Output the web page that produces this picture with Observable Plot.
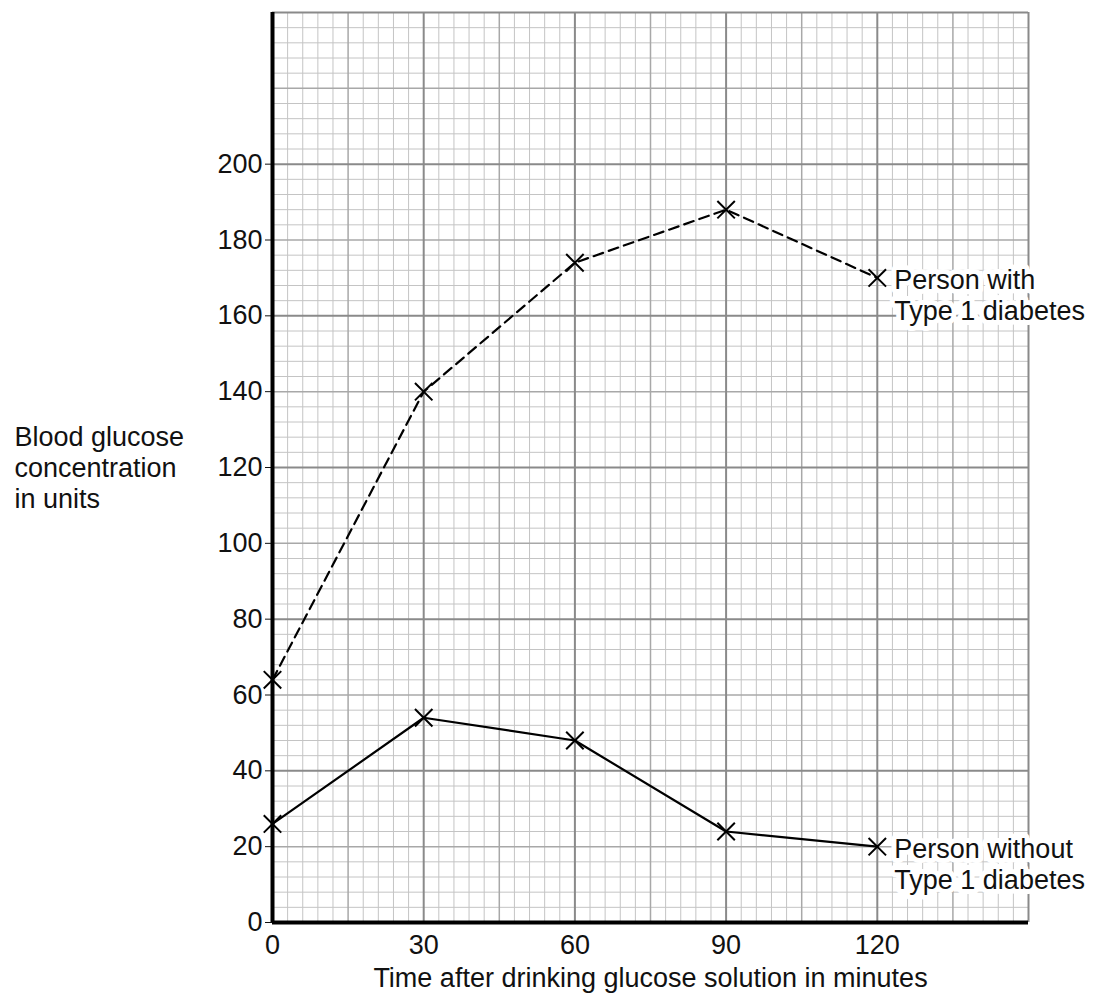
<!DOCTYPE html>
<html><head><meta charset="utf-8">
<script src="https://cdn.jsdelivr.net/npm/d3@7"></script>
<script src="https://cdn.jsdelivr.net/npm/@observablehq/plot@0.6"></script>
<style>body{margin:0;background:#fff;font-family:"Liberation Sans",Arial,sans-serif}</style>
</head><body><div id="chart"></div>
<script>
const times = [0, 30, 60, 90, 120]
const withDiabetes = [64, 140, 174, 188, 170]
const withoutDiabetes = [26, 54, 48, 24, 20]
const xTicks = [0, 30, 60, 90, 120]
const yTicks = [0, 20, 40, 60, 80, 100, 120, 140, 160, 180, 200]

const dWith = times.map((t, i) => ({t, v: withDiabetes[i]}))
const dWithout = times.map((t, i) => ({t, v: withoutDiabetes[i]}))

const xMinor = d3.range(0, 151, 3), yMinor = d3.range(0, 241, 4)
const labels = [
  {t: 120, v: 170, text: "Person with\nType 1 diabetes"},
  {t: 120, v: 20, text: "Person without\nType 1 diabetes"}
]

let chart = Plot.plot({
  width: 1112, height: 1000,
  marginLeft: 272, marginRight: 84, marginTop: 12, marginBottom: 78,
  style: {fontFamily: "Liberation Sans, Arial, sans-serif", fontSize: "27px", color: "#111"},
  x: {domain: [0, 150], label: null},
  y: {domain: [0, 240], label: null},
  marks: [
    Plot.ruleX(xMinor.filter(d => d % 15), {stroke: "#c4c4c4", strokeWidth: 1}),
    Plot.ruleY(yMinor.filter(d => d % 20), {stroke: "#c4c4c4", strokeWidth: 1}),
    Plot.ruleX(xMinor.filter(d => d % 15 == 0 && d % 30), {stroke: "#a8a8a8", strokeWidth: 1.5}),
    Plot.ruleY(yMinor.filter(d => d % 20 == 0 && d % 40), {stroke: "#a8a8a8", strokeWidth: 1.5}),
    Plot.ruleX(xMinor.filter(d => d % 30 == 0), {stroke: "#8a8a8a", strokeWidth: 2}),
    Plot.ruleY(yMinor.filter(d => d % 40 == 0), {stroke: "#8a8a8a", strokeWidth: 2}),
    Plot.axisX({ticks: xTicks, tickSize: 0, tickPadding: 12, fontSize: 27, label: null}),
    Plot.axisY({ticks: yTicks, tickSize: 7, tickPadding: 3, fontSize: 27, label: null}),
    Plot.ruleX([0], {stroke: "black", strokeWidth: 4}),
    Plot.ruleY([0], {stroke: "black", strokeWidth: 4}),
    Plot.line(dWith, {x: "t", y: "v", stroke: "black", strokeWidth: 2.2, strokeDasharray: "10,6"}),
    Plot.line(dWithout, {x: "t", y: "v", stroke: "black", strokeWidth: 2.2}),
    Plot.dot(dWith.concat(dWithout), {x: "t", y: "v", symbol: "times", r: 8, stroke: "black", strokeWidth: 2}),
    Plot.text(labels, {x: "t", y: "v", text: "text", dx: 17, dy: 17, textAnchor: "start", lineAnchor: "middle", lineHeight: 1.15,
      fontSize: 27, fill: "#111", stroke: "white", strokeWidth: 10, clip: false}),
    Plot.text(["Blood glucose\nconcentration\nin units"], {frameAnchor: "left", dx: -258, dy: 0, textAnchor: "start", lineHeight: 1.15, fontSize: 27, fill: "#111"}),
    Plot.text(["Time after drinking glucose solution in minutes"], {frameAnchor: "bottom", x: 75, dy: 64, fontSize: 27, fill: "#111"})
  ]
})
d3.select('#chart').append(() => chart)
</script></body></html>
